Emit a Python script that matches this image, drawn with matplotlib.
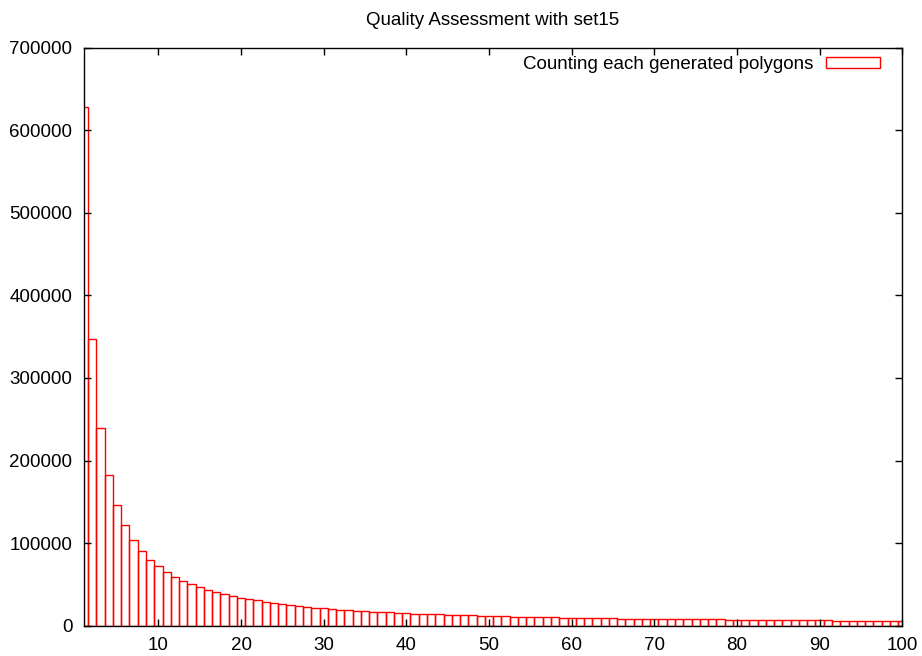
import matplotlib
matplotlib.use("Agg")
import matplotlib.pyplot as plt

plt.rcParams["font.family"] = ["Liberation Sans", "DejaVu Sans"]

TITLE = "Quality Assessment with set15"
LEGEND_LABEL = "Counting each generated polygons"

# bin index 1..100 and the count in each bin
bins = list(range(1, 101))
counts = [
    628000, 347500, 239500, 182000, 145600, 121800, 103500, 90000, 80000, 72200,
    64800, 59300, 54400, 50200, 46600, 43400, 41000, 37800, 35600, 33900,
    31900, 30700, 29000, 27800, 26300, 25000, 24200, 23000, 21900, 21000,
    20200, 19400, 19000, 18200, 17800, 17000, 16600, 16200, 15500, 15000,
    14700, 14300, 13900, 13600, 13300, 12900, 12600, 12400, 12100, 11800,
    11500, 11300, 11000, 10800, 10600, 10400, 10200, 10000, 9800, 9700,
    9500, 9300, 9200, 9000, 8900, 8700, 8600, 8500, 8400, 8300,
    8200, 8100, 8000, 7900, 7800, 7700, 7600, 7500, 7350, 7200,
    7100, 7000, 6900, 6850, 6750, 6700, 6600, 6500, 6450, 6350,
    6300, 6200, 6150, 6050, 6000, 5950, 5850, 5800, 5750, 5700,
]
xticks = list(range(10, 101, 10))
yticks = list(range(0, 700001, 100000))

FS = 13.5

fig = plt.figure(figsize=(9.22, 6.56), dpi=100)
ax = fig.add_axes([0.0911, 0.0462, 0.8875, 0.8811])

ax.bar(bins, counts, width=1.0, fill=False, edgecolor="#ff0000", lw=1.0,
       label=LEGEND_LABEL)

ax.set_xlim(1, 100)
ax.set_ylim(0, 700000)
ax.set_xticks(xticks)
ax.set_yticks(yticks)
ax.set_yticklabels([str(v) for v in yticks])
ax.tick_params(direction="in", length=5, width=1, labelsize=FS,
               top=True, right=True, pad=8.4, colors="black")
for sp in ax.spines.values():
    sp.set_linewidth(1.0)
    sp.set_color("black")

fig.text(493 / 922, (656 - 25) / 656, TITLE, ha="center", va="baseline", fontsize=FS)

ax.legend(loc="upper right", bbox_to_anchor=(0.973, 0.9856), frameon=False,
          fontsize=FS, markerfirst=False, handlelength=2.9, handleheight=0.55,
          handletextpad=0.65, borderpad=0, borderaxespad=0)

fig.savefig("out.png", dpi=100)
